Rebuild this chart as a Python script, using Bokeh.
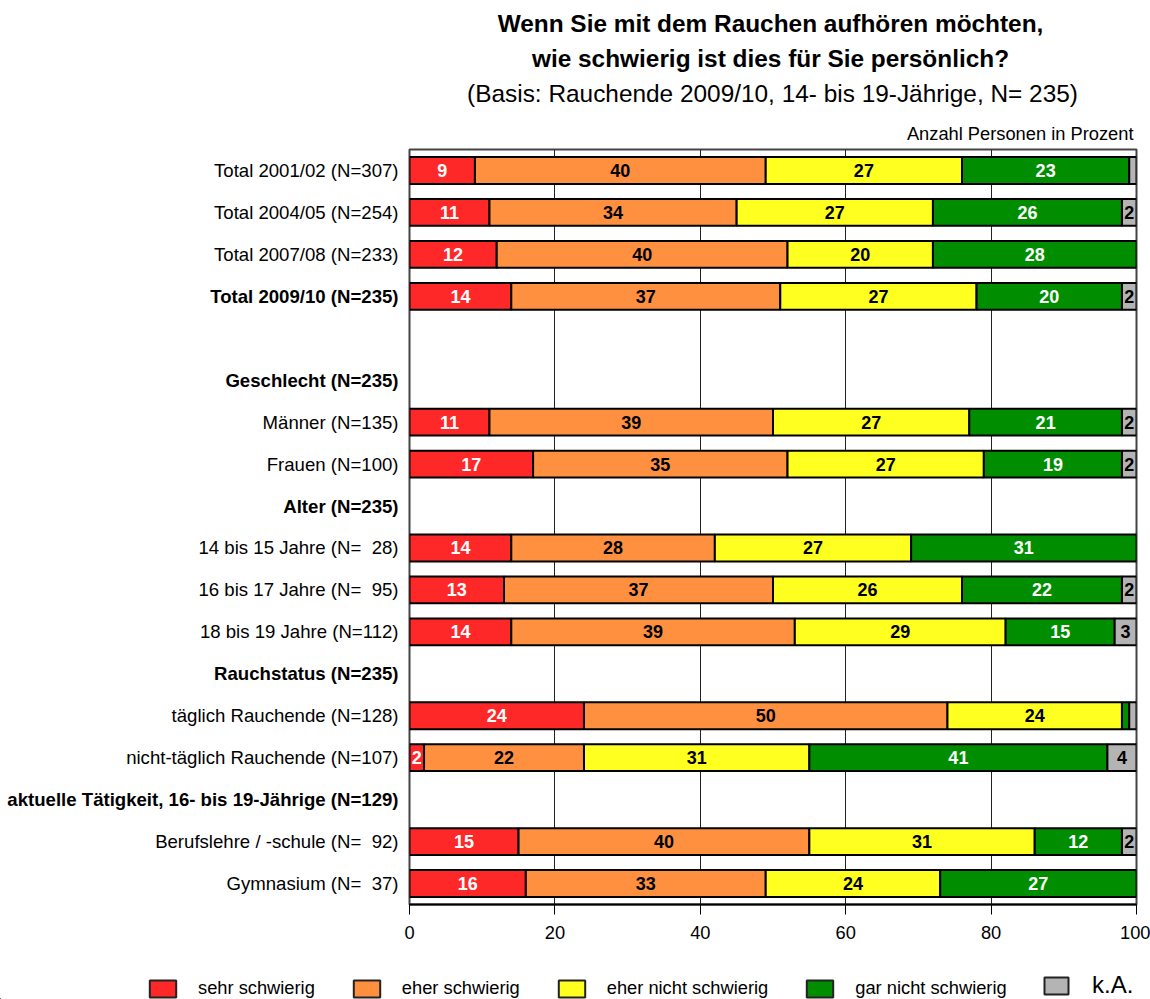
from bokeh.plotting import figure
from bokeh.layouts import column, row
from bokeh.models import Range1d, Legend, LegendItem, FixedTicker, ColumnDataSource
from bokeh.core.properties import value
from bokeh.embed import file_html
from bokeh.resources import INLINE

FONT = "Liberation Sans"
NB = "\u00a0"

# Row labels, top to bottom (empty string = spacer row)
rows = [
    "Total 2001/02 (N=307)",
    "Total 2004/05 (N=254)",
    "Total 2007/08 (N=233)",
    "Total 2009/10 (N=235)",
    "",
    "Geschlecht (N=235)",
    "Männer (N=135)",
    "Frauen (N=100)",
    "Alter (N=235)",
    "14 bis 15 Jahre (N=" + NB + NB + "28)",
    "16 bis 17 Jahre (N=" + NB + NB + "95)",
    "18 bis 19 Jahre (N=112)",
    "Rauchstatus (N=235)",
    "täglich Rauchende (N=128)",
    "nicht-täglich Rauchende (N=107)",
    "aktuelle Tätigkeit, 16- bis 19-Jährige (N=129)",
    "Berufslehre / -schule (N=" + NB + NB + "92)",
    "Gymnasium (N=" + NB + NB + "37)",
]
bold_rows = [False, False, False, True, False, True, False, False, True,
             False, False, False, True, False, False, True, False, False]

# Shares in percent per answer category (None = header row without bar)
sehr_schwierig = [9, 11, 12, 14, None, None, 11, 17, None, 14, 13, 14, None, 24, 2, None, 15, 16]
eher_schwierig = [40, 34, 40, 37, None, None, 39, 35, None, 28, 37, 39, None, 50, 22, None, 40, 33]
eher_nicht_schwierig = [27, 27, 20, 27, None, None, 27, 27, None, 27, 26, 29, None, 24, 31, None, 31, 24]
gar_nicht_schwierig = [23, 26, 28, 20, None, None, 21, 19, None, 31, 22, 15, None, 1, 41, None, 12, 27]
keine_angabe = [1, 2, 0, 2, None, None, 2, 2, None, 0, 2, 3, None, 1, 4, None, 2, 0]

categories = ["sehr schwierig", "eher schwierig", "eher nicht schwierig",
              "gar nicht schwierig", "k.A."]
series = [sehr_schwierig, eher_schwierig, eher_nicht_schwierig,
          gar_nicht_schwierig, keine_angabe]
fill_colors = ["#FF2828", "#FF9040", "#FFFF20", "#008E00", "#B4B4B4"]
text_colors = ["white", "black", "black", "white", "black"]

x_ticks = [0, 20, 40, 60, 80, 100]

title_lines = [
    "Wenn Sie mit dem Rauchen aufhören möchten,",
    "wie schwierig ist dies für Sie persönlich?",
    "(Basis: Rauchende 2009/10, 14- bis 19-Jährige, N= 235)",
]
unit_note = "Anzahl Personen in Prozent"

# Page geometry in pixels
W = 1150
TITLE_H = 147
LABEL_W = 399
MAIN_H = 817
LEGEND_H = 999 - TITLE_H - MAIN_H
n_rows = len(rows)
y_range = Range1d(n_rows - 0.5, -0.5)


def blank(width, height, x_range, y_range_):
    f = figure(width=width, height=height, x_range=x_range, y_range=y_range_,
               x_axis_type=None, y_axis_type=None, output_backend="svg",
               toolbar_location=None, min_border=0)
    f.outline_line_color = None
    f.grid.visible = False
    return f


# ---- title block ----
t = blank(W, TITLE_H, Range1d(0, W), Range1d(TITLE_H, 0))
t.text(x=[770, 770], y=[23, 58], text=title_lines[:2],
       text_align="center", text_baseline="middle", text_color="black",
       text_font=value(FONT), text_font_size=value("24.4px"),
       text_font_style=value("bold"))
t.text(x=[772], y=[93], text=title_lines[2:],
       text_align="center", text_baseline="middle", text_color="black",
       text_font=value(FONT), text_font_size=value("24.4px"),
       text_font_style=value("normal"))
t.text(x=[1133], y=[133], text=[unit_note],
       text_align="right", text_baseline="middle", text_color="black",
       text_font=value(FONT), text_font_size=value("18.3px"))

# ---- row labels ----
lab = figure(width=LABEL_W, height=MAIN_H, x_range=Range1d(0, LABEL_W),
             y_range=y_range, x_axis_type=None, y_axis_type=None,
             output_backend="svg", toolbar_location=None,
             min_border_left=0, min_border_right=0,
             min_border_top=2, min_border_bottom=60)
lab.outline_line_color = None
lab.grid.visible = False
row_src = ColumnDataSource(dict(
    y=[i for i, r in enumerate(rows) if r],
    t=[r for r in rows if r],
    s=["bold" if b else "normal" for r, b in zip(rows, bold_rows) if r],
))
lab.text(x=LABEL_W - 1, y="y", text="t", text_font_style="s", source=row_src,
         text_align="right", text_baseline="middle", text_color="black",
         text_font=value(FONT), text_font_size=value("18.6px"))

# ---- main bar chart ----
p = figure(width=W - LABEL_W, height=MAIN_H, x_range=Range1d(0, 100),
           y_range=y_range, y_axis_type=None,
           output_backend="svg", toolbar_location=None,
           min_border_left=10, min_border_right=14,
           min_border_top=2, min_border_bottom=60)
p.background_fill_color = "white"
p.outline_line_color = "#444444"
p.outline_line_width = 2

renderers = []
lab_x, lab_y, lab_t, lab_c = [], [], [], []
cum = [0.0] * n_rows
for cat, vals, fc, tc in zip(categories, series, fill_colors, text_colors):
    ys, lefts, rights = [], [], []
    for i, v in enumerate(vals):
        if v is None:
            continue
        if v > 0:
            ys.append(i)
            lefts.append(cum[i])
            rights.append(cum[i] + v)
            if v >= 2:
                lab_x.append(cum[i] + v / 2.0)
                lab_y.append(i)
                lab_t.append(str(v))
                lab_c.append(tc)
        cum[i] += v
    src = ColumnDataSource(dict(y=ys, left=lefts, right=rights))
    r = p.hbar(y="y", left="left", right="right", height=0.64, source=src,
               fill_color=fc, line_color="black", line_width=2)
    renderers.append(r)

lab_src = ColumnDataSource(dict(x=lab_x, y=lab_y, t=lab_t, c=lab_c))
p.text(x="x", y="y", text="t", text_color="c", source=lab_src,
       text_align="center", text_baseline="middle",
       text_font=value(FONT), text_font_size=value("18px"),
       text_font_style=value("bold"))

p.ygrid.visible = False
p.xgrid.ticker = FixedTicker(ticks=[20, 40, 60, 80])
p.xgrid.grid_line_color = "#222222"
p.xgrid.grid_line_width = 1

ax = p.xaxis[0]
ax.ticker = FixedTicker(ticks=x_ticks)
ax.major_tick_out = 10
ax.major_tick_in = 0
ax.minor_tick_out = 0
ax.minor_tick_in = 0
ax.major_tick_line_color = "black"
ax.major_tick_line_width = 1
ax.axis_line_color = "black"
ax.axis_line_width = 2
ax.major_label_text_font = FONT
ax.major_label_text_font_size = "18.3px"
ax.major_label_text_color = "black"
ax.major_label_standoff = 11

# ---- legend strip ----
# Swatch renderers hold one point far outside the visible range;
# only their legend keys are drawn.
lg = blank(W, LEGEND_H, Range1d(0, 1), Range1d(0, 1))
keys = []
for fc in fill_colors:
    keys.append(lg.hbar(y=[-50], left=[-50], right=[-49], height=0.5,
                        fill_color=fc, line_color="#222222", line_width=2))
common = dict(orientation="horizontal", glyph_height=21, padding=0, margin=0,
              border_line_alpha=0, background_fill_alpha=0,
              label_text_font=FONT, label_text_color="black")
legend_main = Legend(
    items=[LegendItem(label=c, renderers=[r]) for c, r in zip(categories[:4], keys[:4])],
    location=(146, 0), glyph_width=33, label_standoff=19, spacing=35,
    label_text_font_size="18.3px", **common)
legend_ka = Legend(
    items=[LegendItem(label=categories[4], renderers=[keys[4]])],
    location=(1041, 0), glyph_width=30, label_standoff=21, spacing=0,
    label_text_font_size="24px", label_text_line_height=0.8, label_height=21,
    **common)
lg.add_layout(legend_main)
lg.add_layout(legend_ka)

page = column(t, row(lab, p), lg)
open("out.html", "w").write(file_html(page, INLINE))
